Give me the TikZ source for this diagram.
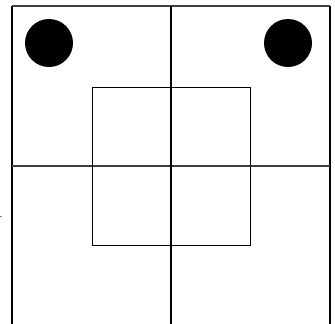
\documentclass[tikz,border=0pt]{standalone}
\begin{document}
\begin{tikzpicture}[x=1pt,y=-1pt,
  frameline/.style={line width=1.2pt,black},
  crossline/.style={line width=1.3pt,black!75},
  boxline/.style={line width=1pt,black},
  blob/.style={fill=black}]
\useasboundingbox (0,0) rectangle (335,324);
% outer frame (open at bottom)
\draw[frameline] (12,324) -- (12,6);
\draw[crossline] (12,6) -- (330,6);
\draw[frameline] (330,6) -- (330,324);
% centre cross
\draw[frameline] (171,6) -- (171,324);
\draw[crossline] (12,166) -- (330,166);
% inner square
\draw[boxline] (92,87) rectangle (250,245);
% centre dot
\fill (171,166) circle (1.5);
% discs
\fill[blob] (49,43) circle (24);
\fill[blob] (288,43) circle (24);
% small tick at left
\draw[black!50,line width=0.8pt] (0,216) -- (2,216);
\end{tikzpicture}
\end{document}
